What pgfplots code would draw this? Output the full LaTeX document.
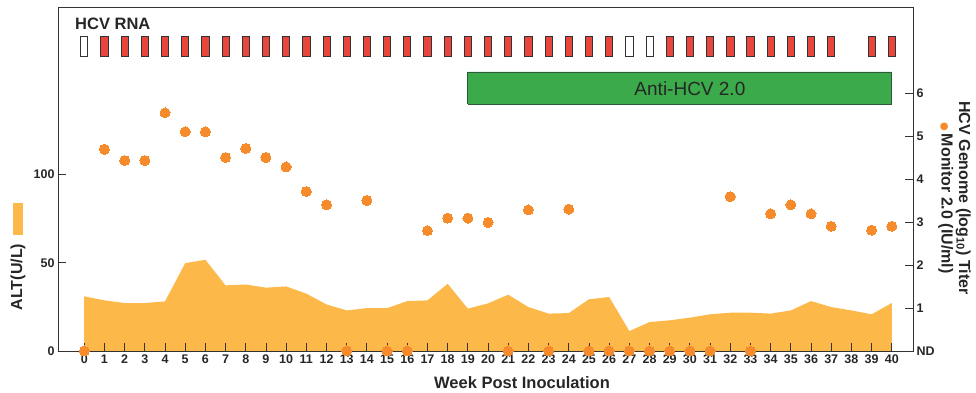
\documentclass[border=0pt]{standalone}
\usepackage{pgfplots}
\pgfplotsset{compat=1.18}
\usepackage{fontspec}
\setmainfont{Liberation Sans}
\newfontfamily\dejavu{DejaVu Sans}
\definecolor{altfill}{HTML}{FDB84A}
\definecolor{dotor}{HTML}{F68B2C}
\definecolor{boxred}{HTML}{E8453C}
\definecolor{agreen}{HTML}{3BAA4A}
\definecolor{dkgreen}{HTML}{2F5A3A}
\definecolor{axgray}{HTML}{333333}
\pgfdeclareplotmark{rbox}{%
  \pgfpathrectangle{\pgfpoint{-3.6pt}{-10pt}}{\pgfpoint{7.2pt}{20pt}}%
  \pgfusepathqfillstroke}
\begin{document}
\begin{tikzpicture}
\useasboundingbox (-58pt,-42pt) rectangle (918pt,351pt);
\pgfplotsset{
  common/.style={
    at={(0pt,0pt)}, anchor=south west,
    width=855pt, height=344pt, scale only axis,
    xmin=-1.3, xmax=41.05,
    tick align=inside, major tick length=8pt,
    axis line style={axgray, line width=0.9pt},
    tick style={axgray, line width=0.9pt},
    ticklabel style={font=\bfseries\fontsize{12.5}{14}\selectfont, text=black!85},
    /pgf/number format/assume math mode=true,
  }
}
\begin{axis}[common,
  ymin=0, ymax=195,
  xtick=\empty,
  ytick={0,50,100}, ytick pos=left,
]
\addplot[fill=altfill, draw=none] table {
x y
0 31.0
1 28.7
2 27.2
3 27.2
4 28.1
5 49.8
6 51.7
7 37.2
8 37.7
9 35.9
10 36.6
11 32.5
12 26.4
13 23.0
14 24.3
15 24.3
16 28.3
17 28.7
18 38.1
19 24.0
20 27.0
21 31.9
22 24.9
23 21.2
24 21.5
25 29.3
26 30.6
27 11.3
28 16.4
29 17.4
30 18.9
31 20.8
32 21.7
33 21.7
34 21.2
35 23.0
36 28.3
37 24.9
38 23.0
39 20.8
40 27.2
} \closedcycle;
\end{axis}
\begin{axis}[common,
  ymin=0, ymax=8,
  xtick={0,...,40}, xtick pos=bottom,
  ytick={0,...,6}, yticklabels={ND,1,2,3,4,5,6},
  ytick pos=right, yticklabel pos=right,
  clip=false,
]
% Anti-HCV bar
\addplot[fill=agreen, draw=dkgreen, line width=0.8pt] coordinates {
(19,5.74) (40,5.74) (40,6.49) (19,6.49) (19,5.74)};
\node[text=black!85, font=\fontsize{19}{22}\selectfont] at (axis cs:30,6.09) {Anti-HCV 2.0};
% HCV RNA boxes
\addplot[only marks, color=axgray, mark=rbox, mark options={fill=boxred, draw=axgray, line width=0.8pt}] table {
x y
1 7.08
2 7.08
3 7.08
4 7.08
5 7.08
6 7.08
7 7.08
8 7.08
9 7.08
10 7.08
11 7.08
12 7.08
13 7.08
14 7.08
15 7.08
16 7.08
17 7.08
18 7.08
19 7.08
20 7.08
21 7.08
22 7.08
23 7.08
24 7.08
25 7.08
26 7.08
29 7.08
30 7.08
31 7.08
32 7.08
33 7.08
34 7.08
35 7.08
36 7.08
37 7.08
39 7.08
40 7.08
};
\addplot[only marks, color=axgray, mark=rbox, mark options={fill=white, draw=axgray, line width=0.8pt}] table {
x y
0 7.08
27 7.08
28 7.08
};
% titer dots
\addplot[only marks, color=dotor, mark=*, mark size=5pt, mark options={fill=dotor, draw=dotor, line width=0pt}] table {
x y
0 0
1 4.69
2 4.43
3 4.43
4 5.54
5 5.10
6 5.10
7 4.50
8 4.71
9 4.50
10 4.28
11 3.71
12 3.40
13 0
14 3.50
15 0
16 0
17 2.80
18 3.09
19 3.09
20 2.99
21 0
22 3.28
23 0
24 3.30
25 0
26 0
27 0
28 0
29 0
30 0
31 0
32 3.59
33 0
34 3.19
35 3.40
36 3.19
37 2.90
39 2.81
40 2.90
};
\end{axis}
\node[anchor=west, inner sep=0pt, text=black!85, font=\bfseries\fontsize{16.5}{18}\selectfont] at (17pt,327pt) {HCV RNA};
\node[text=black!85, font=\bfseries\fontsize{16.5}{18}\selectfont] at (464pt,-31.5pt) {Week Post Inoculation};
\node[rotate=90, text=black!85, font=\bfseries\fontsize{16}{18}\selectfont] at (-40pt,74pt) {ALT(U/L)};
\fill[altfill] (-45.3pt,116pt) rectangle (-35.3pt,148pt);
\node[rotate=-90, align=center, text=black!85, font=\bfseries\fontsize{16}{17.5}\selectfont] at (896.5pt,153pt)
  {HCV Genome (log\textsubscript{10}) Titer\\{\dejavu\fontsize{10}{10}\selectfont\textcolor{dotor}{●}}\,Monitor 2.0 (IU/ml)};
\end{tikzpicture}
\end{document}
